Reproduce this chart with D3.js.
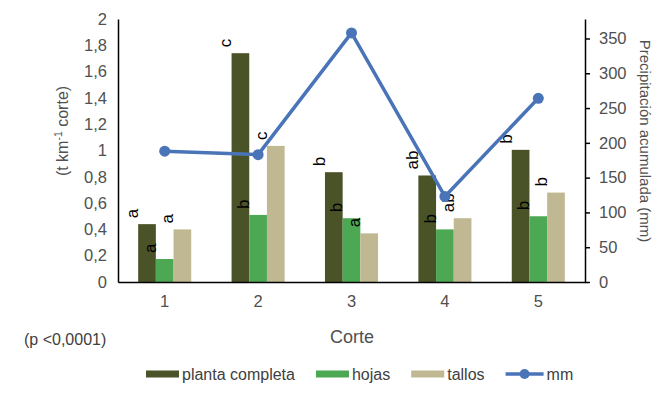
<!DOCTYPE html>
<html>
<head>
<meta charset="utf-8">
<script src="https://cdn.jsdelivr.net/npm/d3@7"></script>
<style>
  body { margin: 0; background: #fff; }
  text { font-family: "Liberation Sans", Arial, Helvetica, sans-serif; }
</style>
</head>
<body>
<div class="chart"></div>
<script>
// Data
const cortes = ["1", "2", "3", "4", "5"];
const series = ["planta completa", "hojas", "tallos"];
const plantaCompleta = [0.44, 1.74, 0.835, 0.81, 1.005];
const hojas = [0.175, 0.51, 0.485, 0.40, 0.50];
const tallos = [0.40, 1.035, 0.37, 0.485, 0.68];
const letrasPlanta = ["a", "c", "b", "ab", "b"];
const letrasHojas = ["a", "b", "b", "b", "b"];
const letrasTallos = ["a", "c", "a", "ab", "b"];
const mm = [188, 183, 358, 123, 264];
const leftTicks = [0, 0.2, 0.4, 0.6, 0.8, 1, 1.2, 1.4, 1.6, 1.8, 2];
const rightTicks = [0, 50, 100, 150, 200, 250, 300, 350];

const colors = ["#4a5328", "#4ca853", "#bfb892"];
const lineColor = "#4a74b8";
const textColor = "#505050";

const width = 671, height = 395;
const plot = { left: 118, right: 585, top: 19, bottom: 282 };

const svg = d3.select(".chart")
    .append("svg")
    .attr("width", width)
    .attr("height", height);

// scales
const x = d3.scaleBand().domain(cortes).range([plot.left, plot.right]);
const xSub = d3.scaleBand().domain(series).range([0, x.bandwidth()])
    .paddingInner(0).paddingOuter(1.14);
const y = d3.scaleLinear().domain([0, 2]).range([plot.bottom, plot.top]);
const y2 = d3.scaleLinear().domain([0, 378]).range([plot.bottom, plot.top]);

const fmt = d => d3.format(".1f")(d).replace(".0", "").replace(".", ",");

// left axis
const yAxis = svg.append("g")
    .attr("transform", `translate(${plot.left},0)`)
    .call(d3.axisLeft(y).tickValues(leftTicks).tickSize(0).tickPadding(11)
        .tickFormat(d => d === 0 ? "0" : fmt(d)));
yAxis.select(".domain").attr("stroke", "#000").attr("stroke-width", 1.5);
yAxis.selectAll("text").attr("fill", textColor).style("font-size", "16.5px");

// right axis
const y2Axis = svg.append("g")
    .attr("transform", `translate(${plot.right},0)`)
    .call(d3.axisRight(y2).tickValues(rightTicks).tickSize(5).tickSizeOuter(0).tickPadding(9));
y2Axis.select(".domain").attr("stroke", "#000").attr("stroke-width", 1.5);
y2Axis.selectAll("line").attr("stroke", "#000").attr("stroke-width", 1.5);
y2Axis.selectAll("text").attr("fill", textColor).style("font-size", "16.5px");

// bars
const seriesValues = [plantaCompleta, hojas, tallos];
const seriesLetters = [letrasPlanta, letrasHojas, letrasTallos];
series.forEach((s, si) => {
    const rows = cortes.map((c, i) => ({ c: c, v: seriesValues[si][i], l: seriesLetters[si][i] }));
    svg.append("g").selectAll("rect")
        .data(rows)
        .join("rect")
        .attr("x", d => x(d.c) + xSub(s))
        .attr("y", d => y(d.v))
        .attr("width", xSub.bandwidth())
        .attr("height", d => y(0) - y(d.v))
        .attr("fill", colors[si]);
});

// bottom axis
const xAxis = svg.append("g")
    .attr("transform", `translate(0,${plot.bottom})`)
    .call(d3.axisBottom(x).tickSize(0).tickPadding(13));
xAxis.select(".domain").attr("stroke", "#000").attr("stroke-width", 1.5);
xAxis.selectAll("text").attr("fill", textColor).style("font-size", "16.5px");

// significance letters (rotated)
series.forEach((s, si) => {
    const rows = cortes.map((c, i) => ({ c: c, v: seriesValues[si][i], l: seriesLetters[si][i] }));
    svg.append("g").selectAll("text")
        .data(rows)
        .join("text")
        .attr("transform", d => {
            const cx = x(d.c) + xSub(s) + xSub.bandwidth() / 2 - 15;
            return `translate(${cx},${y(d.v) - 6}) rotate(-90)`;
        })
        .attr("dy", "0.35em")
        .attr("text-anchor", "start")
        .style("font-size", "17px")
        .attr("fill", "#000")
        .text(d => d.l);
});

// precipitation line
const lineData = cortes.map((c, i) => ({ c: c, v: mm[i] }));
const line = d3.line()
    .x(d => x(d.c) + x.bandwidth() / 2)
    .y(d => y2(d.v));
svg.append("path")
    .datum(lineData)
    .attr("d", line)
    .attr("fill", "none")
    .attr("stroke", lineColor)
    .attr("stroke-width", 3.5)
    .attr("stroke-linejoin", "round");
svg.append("g").selectAll("circle")
    .data(lineData)
    .join("circle")
    .attr("cx", d => x(d.c) + x.bandwidth() / 2)
    .attr("cy", d => y2(d.v))
    .attr("r", 5.5)
    .attr("fill", lineColor);

// axis titles
const leftTitle = svg.append("text")
    .attr("transform", "translate(62,131) rotate(-90)")
    .attr("dy", "0.35em")
    .attr("text-anchor", "middle")
    .attr("fill", textColor)
    .style("font-size", "16px");
leftTitle.append("tspan").text("(t km");
leftTitle.append("tspan").text("-1").attr("baseline-shift", "super").style("font-size", "10.5px");
leftTitle.append("tspan").text(" corte)");

svg.append("text")
    .attr("transform", "translate(645,141) rotate(90)")
    .attr("dy", "0.35em")
    .attr("text-anchor", "middle")
    .attr("fill", textColor)
    .style("font-size", "15px")
    .text("Precipitación acumulada (mm)");

svg.append("text")
    .attr("x", 352)
    .attr("y", 337)
    .attr("dy", "0.35em")
    .attr("text-anchor", "middle")
    .attr("fill", textColor)
    .style("font-size", "18px")
    .text("Corte");

svg.append("text")
    .attr("x", 24)
    .attr("y", 339)
    .attr("dy", "0.35em")
    .attr("fill", "#404040")
    .style("font-size", "16px")
    .text("(p <0,0001)");

// legend
const legendItems = series.concat(["mm"]);
const legend = svg.append("g").attr("transform", "translate(146,374)");
let lx = 0;
legendItems.forEach((name, i) => {
    const g = legend.append("g").attr("transform", `translate(${lx},0)`);
    if (i < 3) {
        g.append("rect").attr("x", 0).attr("y", -3.5).attr("width", 33).attr("height", 7)
            .attr("fill", colors[i]);
    } else {
        g.append("line").attr("x1", 0).attr("x2", 38).attr("y1", 0).attr("y2", 0)
            .attr("stroke", lineColor).attr("stroke-width", 3.5);
        g.append("circle").attr("cx", 19).attr("cy", 0).attr("r", 5).attr("fill", lineColor);
    }
    const sw = i < 3 ? 33 : 38;
    const t = g.append("text")
        .attr("x", sw + 3)
        .attr("dy", "0.35em")
        .attr("fill", "#404040")
        .style("font-size", "16px")
        .text(name);
    lx += sw + 3 + t.node().getComputedTextLength() + 21;
});
</script>
</body>
</html>
